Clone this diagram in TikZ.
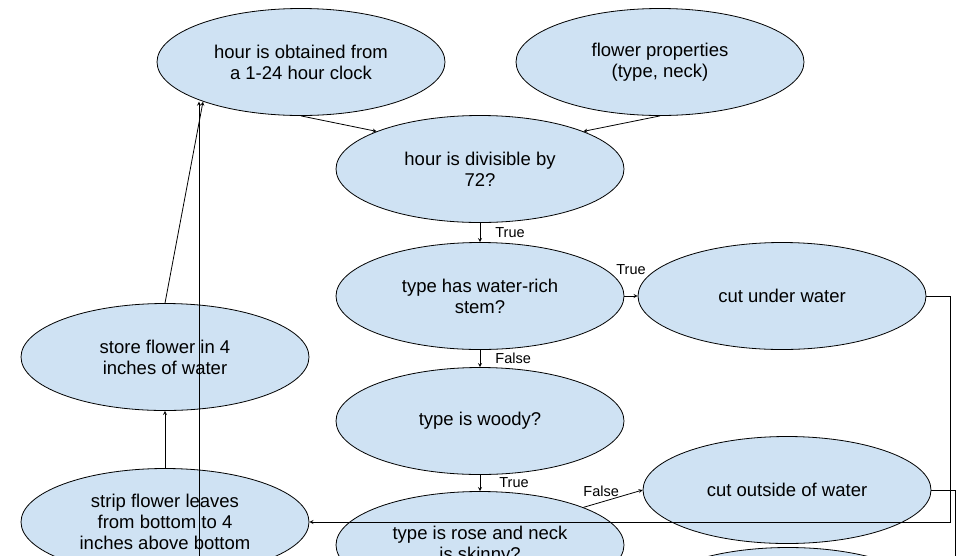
\documentclass[tikz,border=0pt]{standalone}
\usepackage{fontspec}
\setmainfont{Liberation Sans}
\usepackage{tikz}
\usetikzlibrary{shapes.geometric}
\definecolor{stepblue}{RGB}{207,226,243}

\begin{document}
\begin{tikzpicture}[x=1pt, y=-1pt, >=stealth, line width=0.8pt]
        \tikzstyle{stepnode}=[ellipse, draw, fill=stepblue, minimum width=288pt, minimum height=107pt, inner sep=0pt, align=center, font=\fontsize{18.5}{21}\selectfont]
        \tikzstyle{lbl}=[inner sep=1pt, font=\fontsize{14.5}{16}\selectfont]

        \useasboundingbox (0,0) rectangle (960,555);
        \clip (0,0) rectangle (960,555);

        \node (clock)    [stepnode] at (301,62)  {hour is obtained from\\a 1-24 hour clock};
        \node (props)    [stepnode] at (660,62)  {flower properties\\(type, neck)};
        \node (div)      [stepnode] at (480,169) {hour is divisible by\\72?};
        \node (rich)     [stepnode] at (480,296) {type has water-rich\\stem?};
        \node (under)    [stepnode] at (782,296) {cut under water};
        \node (woody)    [stepnode] at (480,421) {type is woody?};
        \node (rose)     [stepnode] at (480,545) {type is rose and neck\\is skinny?};
        \node (outside)  [stepnode] at (787,490) {cut outside of water};
        \node (next)     [stepnode] at (788,601) {};
        \node (store)    [stepnode] at (165,357) {store flower in 4\\inches of water};
        \node (strip)    [stepnode] at (165,522) {strip flower leaves\\from bottom to 4\\inches above bottom};

        \coordinate (upstart) at (199,600);
        \coordinate (downend) at (955,600);

        \draw[->] (clock.south) -- (div.160);
        \draw[->] (props.south) -- (div.20);
        \draw[->] (div) -- node[lbl, right=14pt] {True} (rich);
        \draw[->] (rich.east) -- node[lbl, above=20pt] {True} (under.west);
        \draw[->] (rich) -- node[lbl, right=14pt] {False} (woody);
        \draw[->] (woody) -- node[lbl, right=18pt] {True} (rose);
        \draw[->] (rose.20) -- node[lbl, pos=0.3, above=4pt] {False} (outside.west);
        \draw[->] (under.east) -- ++(24,0) |- (strip.east);
        \draw (outside.east) -| (downend);
        \draw[->] (strip) -- (store);
        \draw[->] (store.north) -- (clock.202);
        \draw[->] (upstart) -- (upstart |- clock.202);

    \end{tikzpicture}
\end{document}
